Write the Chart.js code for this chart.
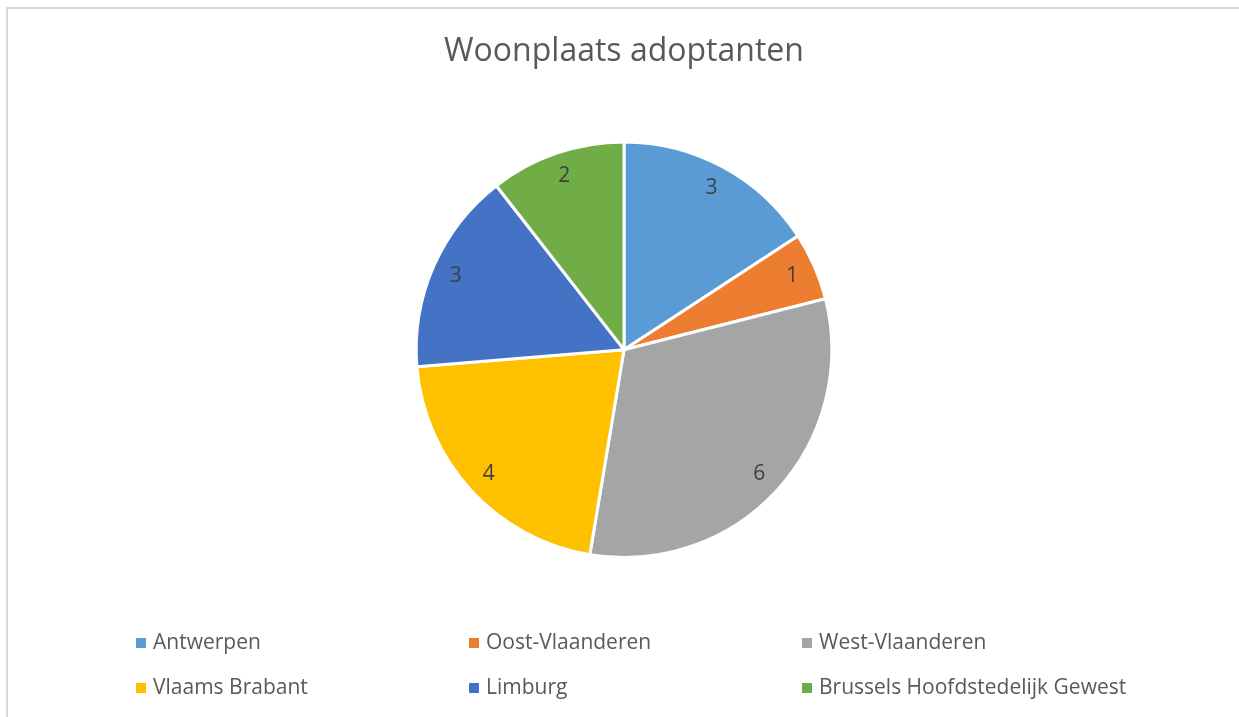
<!DOCTYPE html>
<html>
<head>
<meta charset="utf-8">
<script src="https://cdn.jsdelivr.net/npm/chart.js@4/dist/chart.umd.min.js"></script>
<style>
  html, body { margin: 0; padding: 0; background: #fff; overflow: hidden; }
  #wrap { position: relative; width: 1239px; height: 717px; }
  #frame { position: absolute; left: 6px; top: 7px; right: -10px; bottom: -10px;
           border-top: 2px solid #d9d9d9; border-left: 2px solid #d9d9d9; pointer-events: none; }
</style>
</head>
<body>
<div id="wrap">
  <canvas id="myChart"></canvas>
  <div id="frame"></div>
</div>
<script>
const chartTitle = 'Woonplaats adoptanten';
const provinces = ['Antwerpen', 'Oost-Vlaanderen', 'West-Vlaanderen', 'Vlaams Brabant', 'Limburg', 'Brussels Hoofdstedelijk Gewest'];
const counts = [3, 1, 6, 4, 3, 2];
const sliceColors = ['#5B9BD5', '#ED7D31', '#A5A5A5', '#FFC000', '#4472C4', '#70AD47'];

const FONT = '"Open Sans", "Noto Sans", sans-serif';

// numbers near the outer edge of each slice, like Excel's "inside end"
const sliceLabels = {
    id: 'sliceLabels',
    afterDatasetsDraw(chart) {
        const ctx = chart.ctx;
        const meta = chart.getDatasetMeta(0);
        ctx.save();
        ctx.font = '21px ' + FONT;
        ctx.fillStyle = '#404040';
        ctx.textAlign = 'center';
        ctx.textBaseline = 'middle';
        meta.data.forEach((arc, i) => {
            const p = arc.getProps(['x', 'y', 'startAngle', 'endAngle', 'outerRadius'], true);
            const mid = (p.startAngle + p.endAngle) / 2;
            const r = p.outerRadius - 24;
            ctx.fillText(String(counts[i]), p.x + Math.cos(mid) * r, p.y + Math.sin(mid) * r);
        });
        ctx.restore();
    }
};

// three-column legend under the pie
const gridLegend = {
    id: 'gridLegend',
    afterDraw(chart) {
        const ctx = chart.ctx;
        const colX = [136, 469, 802];
        const rowY = [643, 688];
        ctx.save();
        ctx.font = '21px ' + FONT;
        ctx.textBaseline = 'middle';
        ctx.textAlign = 'left';
        provinces.forEach((name, i) => {
            const x = colX[i % 3];
            const y = rowY[Math.floor(i / 3)];
            ctx.fillStyle = sliceColors[i];
            ctx.fillRect(x, y - 5, 10, 10);
            ctx.fillStyle = '#595959';
            ctx.fillText(name, x + 17, y);
        });
        ctx.restore();
    }
};

document.addEventListener('DOMContentLoaded', () => {
    const chartElement = document.getElementById('myChart');

    new Chart(chartElement, {
        type: 'pie',
        data: {
            labels: provinces,
            datasets: [{
                data: counts,
                backgroundColor: sliceColors,
                borderColor: '#ffffff',
                borderWidth: 3
            }]
        },
        options: {
            responsive: false,
            animation: false,
            layout: {
                padding: { top: 10, bottom: 158, left: 9, right: 0 }
            },
            plugins: {
                legend: { display: false },
                tooltip: { enabled: false },
                title: {
                    display: true,
                    text: chartTitle,
                    color: '#595959',
                    font: { family: FONT, size: 32, weight: 'normal', lineHeight: 1.2 },
                    padding: { top: 23, bottom: 69 }
                }
            }
        },
        plugins: [sliceLabels, gridLegend]
    });
});
</script>
<script>
  const c = document.getElementById('myChart');
  c.width = 1239; c.height = 717;
  c.style.width = '1239px'; c.style.height = '717px';
</script>
</body>
</html>
